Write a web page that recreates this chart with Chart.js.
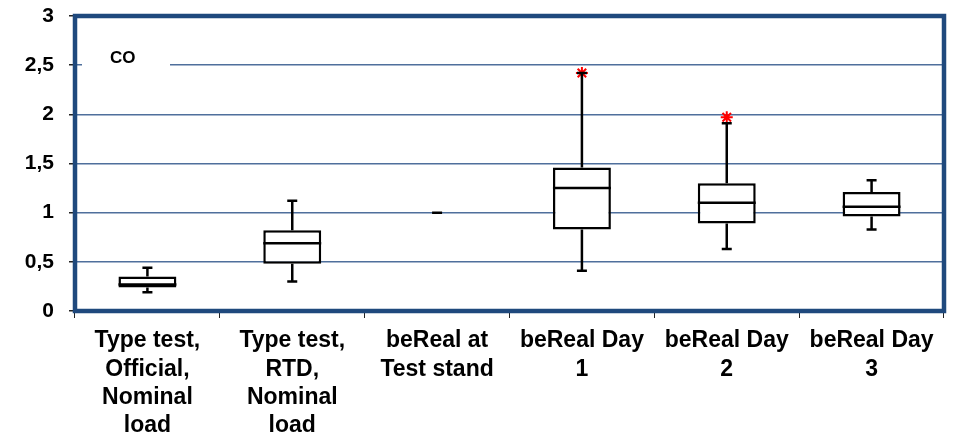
<!DOCTYPE html>
<html lang="en">
<head>
    <title>CO box plot</title>
    <meta charset="UTF-8">
    <script src="https://cdn.jsdelivr.net/npm/chart.js"></script>
    <style>
        body { margin: 0; background: #fff; }
        .wrap { width: 956px; height: 436px; position: relative; }
    </style>
</head>
<body>
<div class="wrap">
    <canvas id="coChart"></canvas>
</div>
<script>
    // categories and box statistics
    const categories = [
        ["Type test,", "Official,", "Nominal", "load"],
        ["Type test,", "RTD,", "Nominal", "load"],
        ["beReal at", "Test stand"],
        ["beReal Day", "1"],
        ["beReal Day", "2"],
        ["beReal Day", "3"]
    ];
    const whiskerMin = [0.19, 0.30, 1.00, 0.41, 0.63, 0.83];
    const q1 = [0.24, 0.48, null, 0.83, 0.89, 0.96];
    const median = [0.27, 0.69, null, 1.25, 1.10, 1.06];
    const q3 = [0.35, 0.82, null, 1.46, 1.30, 1.21];
    const whiskerMax = [0.44, 1.12, 1.00, 2.42, 1.91, 1.33];
    const outliers = [null, null, null, 2.42, 1.97, null];
    const yTicks = [0, 0.5, 1, 1.5, 2, 2.5, 3];

    const FONT = "'Liberation Sans', Arial, sans-serif";
    const FRAME = '#1f497d';

    // whiskers, caps and medians, drawn right after the boxes
    const boxExtras = {
        id: 'boxExtras',
        afterDatasetDraw(chart, args) {
            if (args.index !== 0) return;
            const ctx = chart.ctx;
            const xs = chart.scales.x, ys = chart.scales.y;
            const boxW = chart.getDatasetMeta(0).data.find(b => b && !b.skip)?.width || 58;
            ctx.save();
            ctx.strokeStyle = '#000';
            ctx.lineWidth = 2.5;
            categories.forEach((c, i) => {
                const x = xs.getPixelForValue(i);
                const yMin = ys.getPixelForValue(whiskerMin[i]);
                const yMax = ys.getPixelForValue(whiskerMax[i]);
                ctx.beginPath();
                if (q3[i] != null) {
                    ctx.moveTo(x, ys.getPixelForValue(q3[i]));
                    ctx.lineTo(x, yMax);
                    ctx.moveTo(x, ys.getPixelForValue(q1[i]));
                    ctx.lineTo(x, yMin);
                }
                ctx.moveTo(x - 5, yMax); ctx.lineTo(x + 5, yMax);
                ctx.moveTo(x - 5, yMin); ctx.lineTo(x + 5, yMin);
                if (median[i] != null) {
                    const ym = ys.getPixelForValue(median[i]);
                    ctx.moveTo(x - boxW / 2, ym); ctx.lineTo(x + boxW / 2, ym);
                }
                ctx.stroke();
            });
            ctx.restore();
        },
        beforeDatasetsDraw(chart) {
            // white label box for "CO" that hides the 2,5 grid line
            const ctx = chart.ctx;
            const ys = chart.scales.y;
            const y = ys.getPixelForValue(2.5);
            ctx.save();
            ctx.fillStyle = '#fff';
            ctx.fillRect(chart.chartArea.left + 7, y - 18, 88, 30);
            ctx.fillStyle = '#000';
            ctx.font = 'bold 17px ' + FONT;
            ctx.textBaseline = 'middle';
            ctx.fillText('CO', 110, y - 7);
            ctx.restore();
        },
        afterDraw(chart) {
            const a = chart.chartArea;
            const ctx = chart.ctx;
            ctx.save();
            ctx.strokeStyle = FRAME;
            ctx.lineWidth = 4.5;
            ctx.strokeRect(a.left, a.top, a.right - a.left, a.bottom - a.top);
            ctx.restore();
        }
    };

    new Chart(document.getElementById('coChart'), {
        type: 'bar',
        data: {
            labels: categories,
            datasets: [{
                label: 'Box',
                data: q1.map((v, i) => v == null ? null : [v, q3[i]]),
                backgroundColor: '#fff',
                borderColor: '#000',
                borderWidth: 2.5,
                borderSkipped: false,
                barPercentage: 0.4,
                categoryPercentage: 1
            }, {
                type: 'line',
                label: 'Outliers',
                data: outliers,
                showLine: false,
                pointStyle: 'star',
                pointRadius: 6,
                borderColor: '#ff0000',
                borderWidth: 2,
                backgroundColor: '#ff0000'
            }]
        },
        options: {
            responsive: true,
            maintainAspectRatio: false,
            animation: false,
            layout: { padding: { top: 16, right: 12, left: 0, bottom: 0 } },
            plugins: {
                legend: { display: false },
                tooltip: { enabled: false }
            },
            scales: {
                x: {
                    afterFit: s => { s.height = 125; s.paddingLeft = 0; s.paddingRight = 0; },
                    border: { display: false },
                    grid: {
                        offset: true,
                        drawOnChartArea: false,
                        tickLength: 7,
                        color: '#222',
                        lineWidth: 1
                    },
                    ticks: {
                        autoSkip: false,
                        maxRotation: 0,
                        padding: 9,
                        color: '#000',
                        font: { family: FONT, size: 23, weight: 'bold', lineHeight: 1.23 }
                    }
                },
                y: {
                    min: 0,
                    max: 3,
                    afterFit: s => { s.width = 75; s.paddingTop = 0; s.paddingBottom = 0; },
                    afterBuildTicks: s => { s.ticks = yTicks.map(v => ({ value: v })); },
                    border: { display: false },
                    grid: {
                        color: '#4f6f9c',
                        lineWidth: 1.5,
                        tickLength: 6,
                        tickColor: '#222'
                    },
                    ticks: {
                        padding: 15,
                        color: '#000',
                        font: { family: FONT, size: 21, weight: 'bold' },
                        callback: v => String(v).replace('.', ',')
                    }
                }
            }
        },
        plugins: [boxExtras]
    });
</script>
</body>
</html>
